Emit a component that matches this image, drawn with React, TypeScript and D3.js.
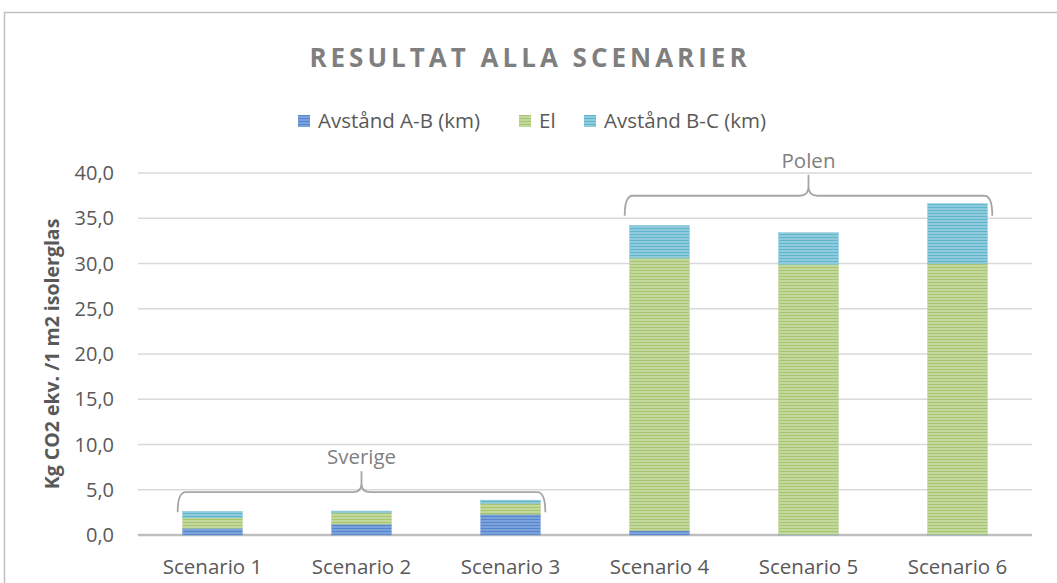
import * as d3 from 'd3';

const categories = ['Scenario 1', 'Scenario 2', 'Scenario 3', 'Scenario 4', 'Scenario 5', 'Scenario 6'];
const abValues = [0.75, 1.2, 2.3, 0.5, 0.05, 0.05];
const elValues = [1.15, 1.25, 1.2, 30.1, 29.85, 29.95];
const bcValues = [0.7, 0.2, 0.35, 3.6, 3.5, 6.6];
const yTicks = [0, 5, 10, 15, 20, 25, 30, 35, 40];
const seriesNames = ['Avstånd A-B (km)', 'El', 'Avstånd B-C (km)'];
const groups = [
  { label: 'Sverige', from: 0, to: 2 },
  { label: 'Polen', from: 3, to: 5 },
];

const W = 1057;
const H = 583;
const margin = { left: 138, right: 25, top: 173, bottom: 48 };
const font = '"Open Sans", "Liberation Sans", sans-serif';

const series = [
  { key: 'ab', values: abValues, base: '#7aa2dc', stripe: '#4a78c2', edge: '#6f9ad8' },
  { key: 'el', values: elValues, base: '#c3d89c', stripe: '#9dbd5c', edge: '#b4cd82' },
  { key: 'bc', values: bcValues, base: '#8fcbdc', stripe: '#4aaec8', edge: '#7cc0d4' },
];

export default function App() {
  const x = d3.scaleBand().domain(categories).range([margin.left, W - margin.right]).paddingInner(0.6).paddingOuter(0.3);
  const y = d3.scaleLinear().domain([0, 40]).range([H - margin.bottom, margin.top]);

  const stackData = categories.map((c, i) => ({ c, ab: abValues[i], el: elValues[i], bc: bcValues[i] }));
  const stacked = d3.stack<any>().keys(['ab', 'el', 'bc'])(stackData);

  const bw = x.bandwidth();
  const legendX = [298, 519, 584];

  const brace = (g: typeof groups[0]) => {
    const x0 = (x(categories[g.from]) || 0) - 5;
    const x1 = (x(categories[g.to]) || 0) + bw + 5;
    const xc = (x0 + x1) / 2;
    let mx = 0;
    for (let i = g.from; i <= g.to; i++) mx = Math.max(mx, abValues[i] + elValues[i] + bcValues[i]);
    const yh = y(mx) - 8;
    const ye = yh + 20;
    const yt = yh - 21;
    const d = `M${x0},${ye} Q${x0},${yh} ${x0 + 8},${yh} L${xc - 9},${yh} Q${xc},${yh} ${xc},${yh - 9} L${xc},${yt}` +
      ` M${xc},${yh - 9} Q${xc},${yh} ${xc + 9},${yh} L${x1 - 8},${yh} Q${x1},${yh} ${x1},${ye}`;
    return { d, xc, yt };
  };

  return (
    <svg width={W} height={H} style={{ position: 'absolute', left: 0, top: 0, background: '#fff' }} fontFamily={font}>
      <defs>
        {series.map(s => (
          <pattern key={s.key} id={`p-${s.key}`} width={8} height={3} patternUnits="userSpaceOnUse">
            <rect width={8} height={3} fill={s.base} />
            <rect width={8} height={1} y={0} fill={s.stripe} opacity={0.7} />
          </pattern>
        ))}
      </defs>
      <rect x={4.5} y={12.5} width={W + 10} height={H + 10} fill="none" stroke="#bfbfbf" strokeWidth={1.5} />

      <text x={530} y={67} textAnchor="middle" fontSize={26} fontWeight="bold" fill="#7f7f7f" letterSpacing={4}>
        RESULTAT ALLA SCENARIER
      </text>

      {seriesNames.map((n, i) => (
        <g key={n} transform={`translate(${legendX[i]},115)`}>
          <rect width={12} height={12} fill={`url(#p-${series[i].key})`} />
          <text x={20} y={13} fontSize={20.5} fill="#595959">{n}</text>
        </g>
      ))}

      {yTicks.map(t => (
        <g key={t}>
          <line x1={margin.left} x2={W - margin.right} y1={y(t)} y2={y(t)} stroke={t === 0 ? '#bfbfbf' : '#d9d9d9'} strokeWidth={t === 0 ? 2.5 : 1.3} />
          <text x={114} y={y(t) + 7} textAnchor="end" fontSize={20} fill="#595959">{d3.format('.1f')(t).replace('.', ',')}</text>
        </g>
      ))}

      <text transform={`translate(59,354) rotate(-90)`} textAnchor="middle" fontSize={19.5} fontWeight="bold" fill="#595959">
        Kg CO2 ekv. /1 m2 isolerglas
      </text>

      {stacked.map((layer, si) => (
        <g key={layer.key}>
          {layer.map((d, i) => (
            <rect key={i} x={x(categories[i])} width={bw} y={y(d[1])} height={Math.max(0, y(d[0]) - y(d[1]))}
              fill={`url(#p-${series[si].key})`} stroke={series[si].edge} strokeWidth={0.5} />
          ))}
        </g>
      ))}

      {categories.map(c => (
        <text key={c} x={(x(c) || 0) + bw / 2} y={574} textAnchor="middle" fontSize={20.5} fill="#595959">{c}</text>
      ))}

      {groups.map(g => {
        const b = brace(g);
        return (
          <g key={g.label}>
            <path d={b.d} fill="none" stroke="#a6a6a6" strokeWidth={1.8} />
            <text x={b.xc} y={b.yt - 7} textAnchor="middle" fontSize={20.5} fill="#7f7f7f">{g.label}</text>
          </g>
        );
      })}
    </svg>
  );
}
